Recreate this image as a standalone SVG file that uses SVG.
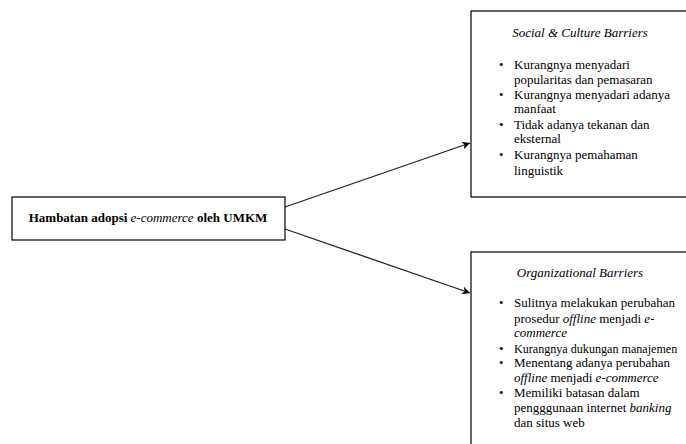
<svg xmlns="http://www.w3.org/2000/svg" width="686" height="444" viewBox="0 0 686 444">
<style>
.box{fill:#fff;stroke:#000;stroke-width:1.2}
.t{font-family:"Liberation Serif","Times New Roman",serif;font-size:13px;fill:#000}
.h{font-style:italic;text-anchor:middle}
.b{font-weight:bold}
.i{font-style:italic}
.c{stroke:#222;stroke-width:1.3;fill:none}
</style>
<defs>
<marker id="ah" viewBox="0 0 10 10" refX="10" refY="5" markerWidth="8" markerHeight="8" markerUnits="userSpaceOnUse" orient="auto">
<path d="M0,0 L10,5 L0,10 L3,5 z" fill="#000"/>
</marker>
</defs>
<rect width="686" height="444" fill="#fff"/>
<g id="connectors">
<line class="c" x1="285" y1="207" x2="470" y2="143" marker-end="url(#ah)"/>
<line class="c" x1="285" y1="229" x2="470" y2="293" marker-end="url(#ah)"/>
</g>
<g id="root">
<rect class="box" x="12" y="197" width="273" height="43"/>
<text class="t b" x="148" y="222" text-anchor="middle">Hambatan adopsi <tspan font-weight="normal" font-style="italic">e-commerce</tspan> oleh UMKM</text>
</g>
<g id="social">
<rect class="box" x="471" y="11" width="230" height="186"/>
<text class="t h" x="580" y="37">Social &amp; Culture Barriers</text>
<g class="t">
<text x="499" y="69">•</text><text x="514" y="69">Kurangnya menyadari</text>
<text x="514" y="84">popularitas dan pemasaran</text>
<text x="499" y="99">•</text><text x="514" y="99">Kurangnya menyadari adanya</text>
<text x="514" y="113">manfaat</text>
<text x="499" y="129">•</text><text x="514" y="129">Tidak adanya tekanan dan</text>
<text x="514" y="143">eksternal</text>
<text x="499" y="159">•</text><text x="514" y="159">Kurangnya pemahaman</text>
<text x="514" y="175">linguistik</text>
</g>
</g>
<g id="organizational">
<rect class="box" x="471" y="252" width="230" height="200"/>
<text class="t h" x="580" y="277">Organizational Barriers</text>
<g class="t">
<text x="499" y="307">•</text><text x="514" y="307">Sulitnya melakukan perubahan</text>
<text x="514" y="323">prosedur <tspan class="i">offline</tspan> menjadi <tspan class="i">e-</tspan></text>
<text x="514" y="337" class="i">commerce</text>
<text x="499" y="353">•</text><text x="514" y="353" font-size="12.1">Kurangnya dukungan manajemen</text>
<text x="499" y="367">•</text><text x="514" y="367">Menentang adanya perubahan</text>
<text x="514" y="382"><tspan class="i">offline</tspan> menjadi <tspan class="i">e-commerce</tspan></text>
<text x="499" y="397">•</text><text x="514" y="397">Memiliki batasan dalam</text>
<text x="514" y="412">pengggunaan internet <tspan class="i">banking</tspan></text>
<text x="514" y="427">dan situs web</text>
</g>
</g>
</svg>
